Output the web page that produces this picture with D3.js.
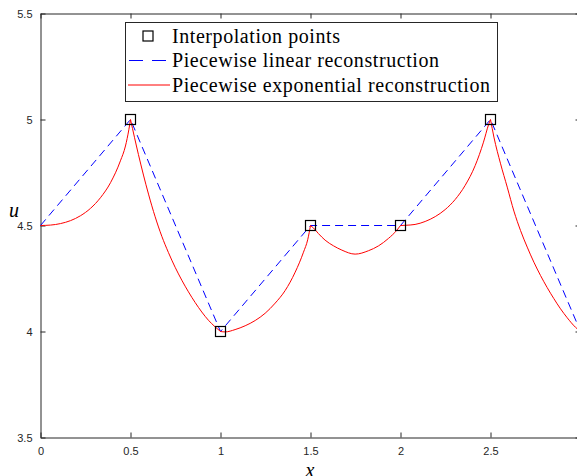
<!DOCTYPE html>
<html>
<head>
<meta charset="utf-8">
<script src="https://cdn.jsdelivr.net/npm/d3@7/dist/d3.min.js"></script>
<style>
html,body{margin:0;padding:0;background:#fff;overflow:hidden;}
svg{display:block;}
</style>
</head>
<body>
<script>
// ---------- data ----------
const xTicks = [0, 0.5, 1, 1.5, 2, 2.5, 3];
const yTicks = [3.5, 4, 4.5, 5, 5.5];
const xTickLabels = ["0", "0.5", "1", "1.5", "2", "2.5", "3"];
const yTickLabels = ["3.5", "4", "4.5", "5", "5.5"];

// nodes for piecewise linear reconstruction
const nodeX = [0, 0.5, 1, 1.5, 2, 2.5, 3];
const nodeU = [4.5, 5, 4, 4.5, 4.5, 5, 4];

// interpolation points (markers)
const pointX = [0.5, 1, 1.5, 2, 2.5];
const pointU = [5, 4, 4.5, 4.5, 5];

// piecewise exponential reconstruction
const expX = [
  0, 0.056, 0.111, 0.167, 0.222, 0.278, 0.333, 0.389, 0.444, 0.472, 0.491, 0.5,
  0.5, 0.544, 0.572, 0.6, 0.637, 0.674, 0.711, 0.748, 0.785, 0.822, 0.859, 0.896, 0.933, 0.97, 1.0,
  1.0, 1.026, 1.081, 1.137, 1.193, 1.248, 1.304, 1.359, 1.415, 1.461, 1.485, 1.5,
  1.5, 1.517, 1.544, 1.581, 1.628, 1.674, 1.748, 1.822, 1.878, 1.933, 1.98, 2.0,
  2.0, 2.026, 2.081, 2.137, 2.193, 2.248, 2.304, 2.359, 2.415, 2.461, 2.489, 2.5,
  2.5, 2.519, 2.556, 2.593, 2.63, 2.667, 2.704, 2.741, 2.778, 2.815, 2.852, 2.889, 2.926, 2.972, 3.0
];
const expU = [
  4.5, 4.502, 4.509, 4.523, 4.546, 4.581, 4.631, 4.702, 4.805, 4.875, 4.953, 5.0,
  5.0, 4.835, 4.738, 4.648, 4.541, 4.449, 4.372, 4.303, 4.242, 4.187, 4.137, 4.092, 4.053, 4.022, 4.0,
  4.0, 3.998, 4.009, 4.027, 4.052, 4.086, 4.134, 4.193, 4.280, 4.374, 4.435, 4.5,
  4.5, 4.488, 4.462, 4.431, 4.404, 4.384, 4.365, 4.381, 4.404, 4.439, 4.478, 4.5,
  4.5, 4.501, 4.505, 4.519, 4.542, 4.575, 4.623, 4.689, 4.783, 4.893, 4.975, 5.0,
  5.0, 4.917, 4.791, 4.681, 4.568, 4.476, 4.398, 4.327, 4.264, 4.207, 4.155, 4.107, 4.065, 4.020, 4.0
];

const legendLabels = ["Interpolation points", "Piecewise linear reconstruction", "Piecewise exponential reconstruction"];

// ---------- layout ----------
const W = 577, H = 476;
const pL = 40.5, pR = 580.5, pT = 13.5, pB = 437.5;
const axisColor = "#262626";
const tickLen = 5;

const svg = d3.select("body").append("svg").attr("width", W).attr("height", H);

const x = d3.scaleLinear().domain([0, 3]).range([pL, pR]);
const y = d3.scaleLinear().domain([3.5, 5.5]).range([pB, pT]);

// axes (box with inward ticks)
const xAxisB = d3.axisBottom(x).tickValues(xTicks).tickFormat((d, i) => xTickLabels[i]).tickSizeInner(-tickLen).tickSizeOuter(0).tickPadding(10);
const xAxisT = d3.axisTop(x).tickValues(xTicks).tickFormat("").tickSizeInner(-tickLen).tickSizeOuter(0);
const yAxisL = d3.axisLeft(y).tickValues(yTicks).tickFormat((d, i) => yTickLabels[i]).tickSizeInner(-tickLen).tickSizeOuter(0).tickPadding(8);
const yAxisR = d3.axisRight(y).tickValues(yTicks).tickFormat("").tickSizeInner(-tickLen).tickSizeOuter(0);

function styleAxis(g) {
  g.select(".domain").attr("stroke", axisColor).attr("stroke-width", 1);
  g.selectAll(".tick line").attr("stroke", axisColor).attr("stroke-width", 1);
  g.selectAll(".tick text").attr("fill", axisColor).style("font-family", "'Liberation Sans', Arial, sans-serif").style("font-size", "11px");
}

svg.append("g").attr("transform", `translate(0,${pB})`).call(xAxisB).call(styleAxis);
svg.append("g").attr("transform", `translate(0,${pT})`).call(xAxisT).call(styleAxis);
svg.append("g").attr("transform", `translate(${pL},0)`).call(yAxisL).call(styleAxis);
svg.append("g").attr("transform", `translate(${pR},0)`).call(yAxisR).call(styleAxis);

// axis labels
svg.append("text").attr("x", 14).attr("y", 217).attr("text-anchor", "middle")
  .style("font-family", "'Liberation Serif', 'DejaVu Serif', serif").style("font-style", "italic").style("font-size", "20px")
  .attr("fill", "#000").text("u");
svg.append("text").attr("x", 310).attr("y", 477).attr("text-anchor", "middle")
  .style("font-family", "'Liberation Serif', 'DejaVu Serif', serif").style("font-style", "italic").style("font-size", "20px")
  .attr("fill", "#000").text("x");

// plot data
const plot = svg.append("g");

// linear reconstruction
const linData = nodeX.map((d, i) => [d, nodeU[i]]);
plot.append("path").datum(linData)
  .attr("fill", "none").attr("stroke", "#0000ff").attr("stroke-width", 1)
  .attr("stroke-dasharray", "8,5")
  .attr("d", d3.line().x(d => x(d[0])).y(d => y(d[1])));

// exponential reconstruction: split into segments at nodes
const segs = [];
let cur = [];
expX.forEach((xv, i) => {
  if (i > 0 && xv === expX[i - 1]) { segs.push(cur); cur = []; }
  cur.push([xv, expU[i]]);
});
segs.push(cur);
const curve = d3.line().x(d => x(d[0])).y(d => y(d[1])).curve(d3.curveMonotoneX);
segs.forEach(s => {
  plot.append("path").datum(s)
    .attr("fill", "none").attr("stroke", "#ff0000").attr("stroke-width", 1)
    .attr("d", curve);
});

// markers
const ms = 10;
plot.selectAll("rect.pt").data(pointX.map((d, i) => [d, pointU[i]])).enter()
  .append("rect").attr("class", "pt")
  .attr("x", d => x(d[0]) - ms / 2).attr("y", d => y(d[1]) - ms / 2)
  .attr("width", ms).attr("height", ms)
  .attr("fill", "none").attr("stroke", "#000").attr("stroke-width", 1.2);

// legend
const lg = svg.append("g");
const lgX = 125.5, lgY = 22.5, lgW = 372, lgH = 79;
lg.append("rect").attr("x", lgX).attr("y", lgY).attr("width", lgW).attr("height", lgH)
  .attr("fill", "#fff").attr("stroke", axisColor).attr("stroke-width", 1);
const rowY = [36, 60.5, 85];
lg.append("rect").attr("x", 148 - 5).attr("y", rowY[0] - 5).attr("width", 10).attr("height", 10)
  .attr("fill", "none").attr("stroke", "#000").attr("stroke-width", 1.2);
lg.append("line").attr("x1", 129).attr("x2", 166).attr("y1", rowY[1]).attr("y2", rowY[1])
  .attr("stroke", "#0000ff").attr("stroke-width", 1).attr("stroke-dasharray", "14,9");
lg.append("line").attr("x1", 128).attr("x2", 170).attr("y1", rowY[2]).attr("y2", rowY[2])
  .attr("stroke", "#ff0000").attr("stroke-width", 1);
const texts = legendLabels.map((t, i) =>
  lg.append("text").attr("x", 172).attr("y", rowY[i]).attr("dy", "0.33em")
    .style("font-family", "'Liberation Serif', 'DejaVu Serif', serif").style("font-size", "20px")
    .attr("fill", "#000").text(t));
// stretch to the wider Computer-Modern-like text width of the reference
const longest = texts[2].node().getComputedTextLength();
const ratio = 318 / longest;
texts.forEach(t => {
  const w = t.node().getComputedTextLength();
  t.attr("textLength", w * ratio).attr("lengthAdjust", "spacing");
});
</script>
</body>
</html>
